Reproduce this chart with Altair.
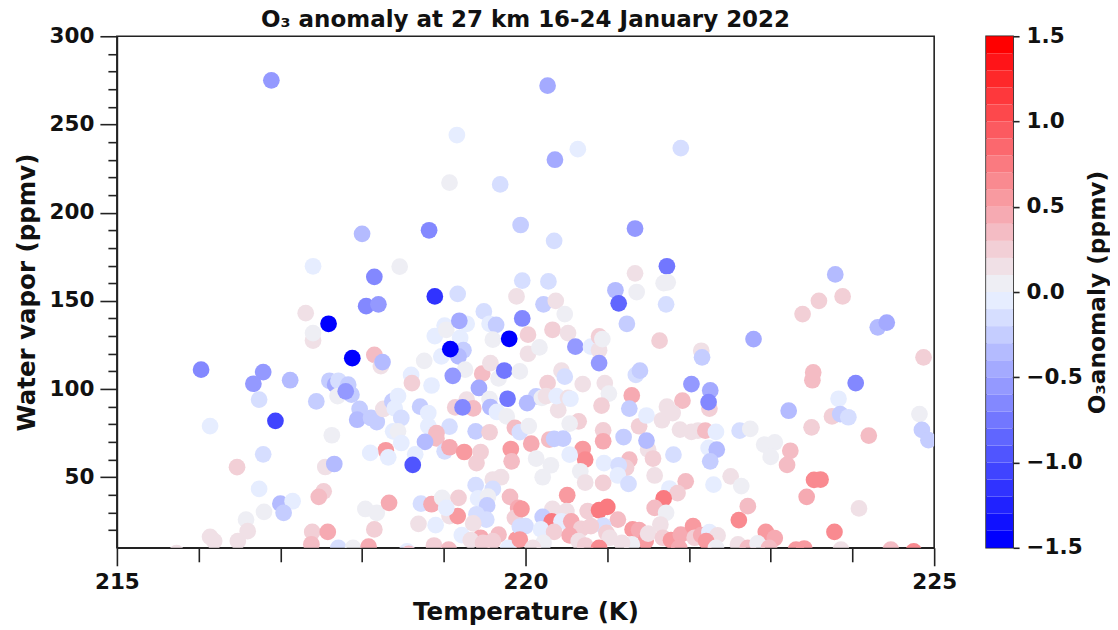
import altair as alt
import pandas as pd

temperature = [
216.89,219.16,219.07,219.69,218.0,218.82,219.94,217.4,218.15,218.46,218.89,219.17,219.96,219.89,
220.27,220.64,220.36,221.9,220.35,221.34,221.73,221.34,221.69,221.74,221.36,221.1,221.14,220.28,220.22,220.37,223.79,223.59,223.88,221.72,
218.05,218.2,217.31,217.4,217.4,217.59,218.15,218.23,217.88,218.25,216.03,216.79,216.67,217.12,216.74,217.44,216.94,216.14,
217.6,217.67,217.71,217.83,217.7,217.87,217.8,217.97,217.94,218.11,218.18,218.26,218.37,218.44,218.4,218.48,218.38,218.44,218.48,
218.6,218.61,218.76,218.85,218.89,219.01,219.03,219.2,219.28,219.19,218.97,219.24,219.18,219.08,219.26,219.11,219.47,219.57,219.67,219.74,
219.49,219.56,219.64,219.6,219.8,219.96,219.43,219.28,219.56,219.14,219.36,219.23,219.57,219.65,219.77,219.78,
218.71,218.81,218.81,219.07,219.39,219.56,218.91,218.91,218.77,219.01,219.07,219.25,219.45,219.4,219.82,219.83,219.87,219.93,
218.65,218.62,218.29,218.32,218.1,217.63,216.79,216.47,217.55,217.66,216.74,217.53,217.47,217.0,217.15,217.04,216.8,216.58,216.6,216.48,216.14,216.19,215.73,
218.04,218.18,218.33,218.72,218.85,218.98,219.18,219.07,219.17,219.03,218.69,218.9,218.15,217.39,217.58,217.38,217.71,217.89,218.08,218.55,218.57,218.88,219.06,219.22,
219.39,219.7,219.6,219.6,219.42,219.54,219.53,219.4,219.52,219.36,219.67,219.45,219.33,219.48,219.81,219.91,219.87,219.89,219.6,219.79,219.93,
220.48,220.33,220.52,220.03,220.03,220.17,220.61,220.8,220.9,220.9,220.94,220.9,221.24,221.64,219.93,220.44,220.48,220.7,220.27,220.97,221.02,220.93,221.3,221.35,221.4,
221.92,222.03,222.26,222.25,222.24,222.15,222.16,222.79,223.39,224.31,224.42,224.87,223.51,223.52,224.04,223.83,223.75,223.85,223.95,223.22,223.5,224.2,224.82,224.85,224.93,
223.24,223.2,223.05,222.92,223.0,222.62,222.75,222.11,222.03,221.89,222.2,222.33,222.24,222.34,222.26,221.81,221.5,221.56,221.39,221.48,221.48,221.67,221.73,221.8,221.27,
220.65,220.54,220.4,220.13,220.02,220.2,220.25,220.38,220.52,220.55,220.04,220.95,220.95,221.2,220.29,220.35,220.46,220.07,220.7,220.73,220.54,220.13,220.31,220.21,220.96,220.67,220.73,220.95,
221.27,221.23,221.14,221.13,221.26,221.58,221.96,221.76,221.86,221.69,221.58,221.72,221.65,222.51,222.64,222.3,222.72,222.61,222.94,223.05,223.53,223.61,223.44,224.08,223.78,
220.51,219.95,220.33,220.21,220.5,220.76,220.9,221.0,221.13,220.95,220.0,220.32,220.44,220.56,220.19,220.35,220.68,220.54,220.8,220.99,221.03,220.65,220.73,220.22,219.93,220.09,220.9,
221.31,221.39,221.47,221.5,221.3,221.18,221.68,221.78,221.9,222.05,222.07,222.15,222.25,222.35,222.21,221.88,222.6,222.33,222.72,222.84,222.98,223.31,223.41,224.75,224.47,223.86,
]
water_vapor = [
275,244,217,216,188,190,193,169.6,163.6,169.4,152.5,154,161.5,152.5,
272,236,230,236.6,184,191,169.6,165.6,160,160.5,155,156,148.6,161,148,150,165,150,152.5,148,
147,148,143,127.5,131.7,137,119.4,113,117.5,115.3,111,109.6,103,105,94,93,82,79,
104.7,102.5,104.7,102.5,96,96.8,98.7,88.7,82.6,83.6,81.3,88.7,93,96,89,83.6,76,76,69.4,
108,103.4,116,102,130,136,133.6,129,137,138.7,118.5,122,118.5,122.6,111,107.5,108.7,114.7,106,110.5,
144,137,136.4,128,128.5,140,100.6,94,94.3,89.6,89,89.6,89.8,87,84.5,94.5,
90,86.4,79,78.7,76,75.5,75,72,70,64.7,67,64.3,64.3,58,66,59,78,75.6,
63,57,65.3,61.3,63.8,73.8,63,55.7,55.8,57.5,43.4,42,38.9,35,36.4,29.8,30.4,26,19.4,13.8,16.2,13.8,7,
32,29.8,35.5,35,34.7,38.3,38.3,28,28,32.6,23.6,22.8,20.4,19,19,12,10,10,10.6,8,6.5,11.3,9,17.2,
45.5,50,48.7,43.4,38,39,34,29,26,23.8,17.5,15.7,14.3,12.8,38.9,32.6,27,14.7,13.8,10,22,
142.5,133.6,131.7,130.8,120,123.6,124,124,129.8,122,128.3,114.7,137,127.4,110,110.4,107,102.8,103.4,103.4,97.4,90.6,96.4,108,110.4,
93.4,102.8,99.2,88.9,92.6,121.7,118,128.3,142.5,135,137.7,118,105,109.4,103.4,94.5,84.5,85.8,84,87.7,78.3,73.6,85.8,76.8,71,
65,57,69.8,68.5,61.5,76.4,77.4,76.4,75.7,77,76.4,75.7,66.6,65.7,59,62.8,65.7,60.6,78.9,70.8,85,82.3,90,86.4,88.9,
81.7,80.4,88,95.8,92,95,96,96,95,94.5,79,76.6,70.4,72.8,71.3,71.7,71.9,69,66,60,62.8,60.6,56.8,50,58,53.4,47,46.8,
60,55.3,56.8,51,46.2,51,47.7,43.6,41,38,32.6,29.8,23.2,50.5,45,45.8,33.6,25.7,19,15.5,48.5,48.7,38.9,32.3,19,
39.8,32,32,27.5,30.8,30.8,31.3,33.2,26,22.6,22.3,25,25,25,20.4,19,20.8,17,22.3,18.5,15.7,13.8,11.3,12.8,14.7,10,10,
20.4,20,13.8,18,11.9,12.8,15.7,14.3,17.5,22.3,15.7,17.2,18.9,17,13.8,10,11.9,10,10,12.5,10,9,9.6,8,9,9,
]
o3_anomaly = [
-.55,-.05,.05,-.15,-.4,-.7,-.25,-.05,-.65,.05,-1.15,-.15,-.15,.15,
-.45,-.05,-.45,-.15,-.15,-.55,-.75,.15,.05,.05,.05,-.4,-.85,-.15,-.3,.15,-.35,.25,.25,-.15,
-.7,-.6,.15,.15,.05,-1.45,.35,.15,-1.45,-.35,-.7,-.6,-.6,-.35,-.2,-.25,-1.05,-.05,
-.25,-.45,-.2,-.3,.05,-.3,-.55,-.25,-.4,-.25,-.25,.1,-.3,-.05,-.05,-.2,-.05,.05,-.05,
-.05,.25,.05,-.05,-.05,-.05,.05,-.05,-.05,-.5,-.05,-.25,-.35,-1.45,.05,-.6,.35,.15,.05,-.75,
-.15,-.05,-.25,.05,-1.45,-.7,-.5,.1,.05,.25,.35,-.65,-.4,-.05,.05,-.75,
-.3,-.05,-.05,-.15,-.25,.25,.3,.3,-.35,-.2,.45,.55,.25,.2,.55,.3,.3,-.15,
-.05,-.95,.5,-.05,-.05,.05,-.15,.2,.15,-.35,-.05,.25,.3,-.35,-.05,-.25,.05,.05,.15,.15,.12,.15,.15,
.05,.05,.45,-.2,.4,.05,.25,.15,.55,-.05,.15,-.05,.25,.25,.45,.3,-.15,.05,.4,-.1,.3,.25,.35,-.05,
-.2,.15,.15,-.2,-.05,.05,-.25,-.15,-.15,.15,.3,.45,.15,.25,.3,.4,.25,.5,.2,-.05,-.15,
.05,.2,.15,.2,.15,.05,-.6,-.05,.25,.15,.05,-.55,-.25,.2,.05,.15,-.2,.15,.2,.15,.05,.2,.4,-.15,-.25,
.3,-.6,-.5,.2,-.7,.15,-.3,-.5,.2,-.35,-.5,.25,.3,.35,-.7,-.05,.25,-.3,-.15,-.35,.25,.35,.05,-.25,-.25,
.35,.3,.05,.05,.05,-.2,.05,.15,.15,.15,.35,-.05,-.1,-.4,-.25,-.15,.15,.25,.2,-.35,-.05,.15,.15,.15,-.25,
.2,.05,.15,-.3,-.35,.05,.15,-.05,.15,-.05,.05,.2,.45,-.3,.3,-.25,-.25,.4,.55,.6,-.05,.05,.05,.05,-.05,.05,.15,.2,
.35,.25,-.15,-.05,-.15,.15,.3,-.05,.25,.7,.3,.05,.15,.15,.05,-.05,.3,.6,.5,.4,.6,.65,.4,.15,.6,
.5,.5,.15,-.25,.15,.2,.75,.75,.35,-.2,-.15,.7,-.05,.4,-.05,.2,.25,.4,.2,.2,.15,.15,.25,.05,.5,.15,.6,
.55,.45,.5,.15,.05,.15,.2,.5,.45,.55,.2,.45,-.05,.15,.5,.45,.15,.05,.3,.05,.3,.5,.5,.65,.3,.15,
]
assert len(temperature) == len(water_vapor) == len(o3_anomaly), (len(temperature), len(water_vapor), len(o3_anomaly))

cmap_colors = [
"#0000ff","#1011ff","#2022ff","#3033ff","#4044ff","#5055ff","#6066ff","#7277ff","#8388ff","#9499ff",
"#a4aaff","#b4bbff","#c5cdff","#d6deff","#e6edff","#eeeef4","#f0e0e6","#f2cfd6","#f4bcc4","#f6aab2",
"#f89aa0","#f98a90","#fa7a80","#fb686e","#fc5a60","#fd484c","#fe383c","#fe282a","#ff1418","#ff0000",
]
bar_lower = [-1.5 + i * 0.1 for i in range(30)]
bar_upper = [-1.4 + i * 0.1 for i in range(30)]
x_major = [215, 220, 225]
x_minor = [216, 217, 218, 219, 221, 222, 223, 224]
y_major = [50, 100, 150, 200, 250, 300]
y_minor = [v for v in range(20, 300, 10) if v % 50 != 0]
bar_ticks = [-1.5, -1.0, -0.5, 0.0, 0.5, 1.0, 1.5]

FONT = "DejaVu Sans"
LABEL = dict(labelFont=FONT, labelFontWeight="bold", labelFontSize=21.5, labelColor="#111", labelFlush=False, labelOverlap=False)
TITLE = dict(titleFont=FONT, titleFontWeight="bold", titleColor="#111")
TICK = dict(tickWidth=1.6, tickColor="#222", grid=False)
df = pd.DataFrame({"T": temperature, "W": water_vapor, "O": o3_anomaly})
color_scale = alt.Scale(type="quantize", domain=[-1.5, 1.5], range=cmap_colors)
xs = alt.Scale(domain=[215, 225], nice=False, zero=False)
ys = alt.Scale(domain=[10, 300], nice=False, zero=False)

minor = alt.Chart(df).mark_circle(opacity=0).encode(
    x=alt.X("T:Q", scale=xs, axis=alt.Axis(orient="bottom", values=x_minor, labels=False, title=None, tickSize=14, domain=False, **TICK)),
    y=alt.Y("W:Q", scale=ys, axis=alt.Axis(orient="left", values=y_minor, labels=False, title=None, tickSize=9, domain=False, **TICK)),
)
points = alt.Chart(df).mark_circle(size=280, opacity=1, clip=True).encode(
    x=alt.X("T:Q", scale=xs, axis=alt.Axis(orient="bottom", values=x_major, format="d", title="Temperature (K)", tickSize=18, domainColor="#222", domainWidth=1.6, labelPadding=6, titleFontSize=24.5, titlePadding=7, **TICK, **LABEL, **TITLE)),
    y=alt.Y("W:Q", scale=ys, axis=alt.Axis(orient="left", values=y_major, format="d", title="Water vapor (ppmv)", tickSize=17, domainColor="#222", domainWidth=1.6, labelPadding=6, titleFontSize=24.5, titlePadding=10, **TICK, **LABEL, **TITLE)),
    color=alt.Color("O:Q", scale=color_scale, legend=None),
)
main = alt.layer(minor, points).resolve_axis(x="independent", y="independent").properties(
    width=818, height=512,
    title=alt.TitleParams("O₃ anomaly at 27 km 16-24 January 2022", font=FONT, fontWeight="bold", fontSize=23, color="#111", offset=-7, anchor="middle"),
)

bar_df = pd.DataFrame({"lo": bar_lower, "hi": bar_upper})
bar_df["mid"] = (bar_df.lo + bar_df.hi) / 2
bar = alt.Chart(bar_df).mark_rect().encode(
    y=alt.Y("lo:Q", scale=alt.Scale(domain=[-1.5, 1.5], nice=False, zero=False), axis=alt.Axis(orient="right", values=bar_ticks, format=".1f", title="O₃anomaly (ppmv)", titleAngle=270, titleBaseline="middle", titleX=84, titleY=256, tickSize=6, domain=False, labelPadding=7, titleFontSize=23.3, **TICK, **LABEL, **TITLE)),
    y2="hi:Q",
    color=alt.Color("mid:Q", scale=color_scale, legend=None),
).properties(width=27, height=512)

chart = alt.hconcat(main, bar, spacing=27).resolve_scale(color="shared").configure_view(stroke="#222", strokeWidth=1.6).properties(
    background="white", padding={"left": 5, "top": 0, "right": 0, "bottom": 0}
)
chart.save("out.html", embed_options={"renderer": "svg", "actions": False})
